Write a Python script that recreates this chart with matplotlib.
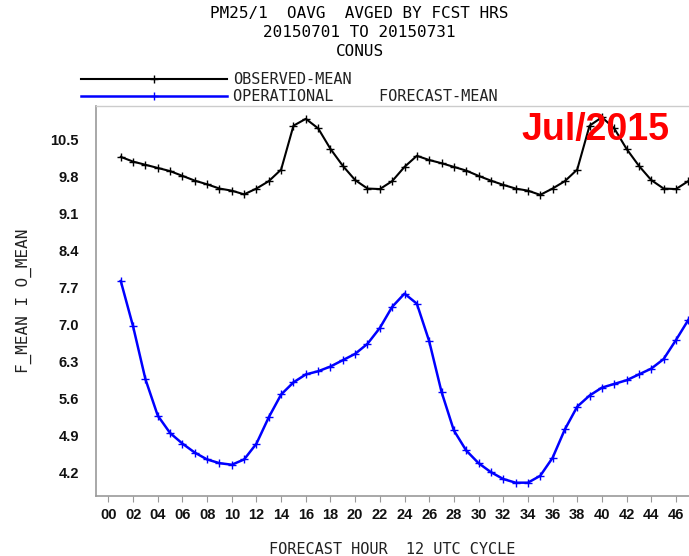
import matplotlib
matplotlib.use("Agg")
import matplotlib.pyplot as plt
from matplotlib.lines import Line2D

# forecast hours 1..47
hours = list(range(1, 48))

# observed mean (black)
obs_mean = [10.18, 10.09, 10.03, 9.97, 9.91, 9.82, 9.73, 9.66, 9.58, 9.54,
            9.47, 9.58, 9.72, 9.94, 10.77, 10.90, 10.72, 10.33, 10.01, 9.74,
            9.58, 9.57, 9.72, 9.99, 10.20, 10.12, 10.06, 9.99, 9.92, 9.82,
            9.73, 9.65, 9.58, 9.54, 9.46, 9.58, 9.72, 9.94, 10.77, 10.93,
            10.72, 10.33, 10.01, 9.74, 9.58, 9.57, 9.72]

# operational forecast mean (blue)
fcst_mean = [7.83, 6.97, 5.97, 5.28, 4.95, 4.75, 4.58, 4.45, 4.38, 4.35,
             4.45, 4.75, 5.25, 5.68, 5.91, 6.06, 6.12, 6.21, 6.33, 6.45,
             6.64, 6.94, 7.34, 7.59, 7.40, 6.69, 5.73, 5.00, 4.62, 4.38,
             4.21, 4.08, 4.01, 4.01, 4.14, 4.48, 5.02, 5.45, 5.66, 5.81,
             5.88, 5.95, 6.06, 6.17, 6.35, 6.71, 7.09]

xticks = list(range(0, 47, 2))
xtick_labels = ["%02d" % h for h in xticks]
yticks = [4.2, 4.9, 5.6, 6.3, 7.0, 7.7, 8.4, 9.1, 9.8, 10.5]

mono = "DejaVu Sans Mono"

fig = plt.figure(figsize=(6.89, 5.56), dpi=100)
ax = fig.add_axes([0.1389, 0.1085, 0.8611, 0.7000])

ax.plot(hours, obs_mean, color="black", lw=1.5, marker="+", ms=6, mew=1.0)
ax.plot(hours, fcst_mean, color="#0000ff", lw=1.8, marker="+", ms=6, mew=1.0)

ax.set_xlim(-1.03, 47.06)
ax.set_ylim(3.764, 11.134)
ax.set_xticks(xticks)
ax.set_xticklabels(xtick_labels)
ax.set_yticks(yticks)
ax.set_yticklabels(["%.1f" % v for v in yticks])

for lab in ax.get_xticklabels() + ax.get_yticklabels():
    lab.set_fontfamily("Liberation Sans")
    lab.set_fontweight("bold")
    lab.set_fontsize(10.5)
    lab.set_color("#111111")

ax.tick_params(axis="x", direction="out", length=4, width=0.8, color="#999999", pad=5)
ax.tick_params(axis="y", length=0, pad=12)

for side in ["left", "bottom"]:
    ax.spines[side].set_color("#999999")
    ax.spines[side].set_linewidth(1.2)
ax.spines["top"].set_color("#cccccc")
ax.spines["top"].set_linewidth(1.0)
ax.spines["right"].set_visible(False)

ax.set_xlabel("FORECAST HOUR  12 UTC CYCLE", fontfamily=mono, fontsize=11,
              color="#222222")
ax.xaxis.set_label_coords(0.5, -0.119)
ax.set_ylabel("F_MEAN I O_MEAN", fontfamily=mono, fontsize=11.5,
              color="#222222")
ax.yaxis.set_label_coords(-0.108, 0.5)

# title block
fig.text(0.522, 0.9766, "PM25/1  OAVG  AVGED BY FCST HRS", ha="center", va="center",
         fontfamily=mono, fontsize=11.5, color="black")
fig.text(0.522, 0.9424, "20150701 TO 20150731", ha="center", va="center",
         fontfamily=mono, fontsize=11.5, color="black")
fig.text(0.522, 0.9065, "CONUS", ha="center", va="center",
         fontfamily=mono, fontsize=11.5, color="black")

# legend
handles = [Line2D([], [], color="black", lw=1.5, marker="+", ms=6, mew=1.0),
           Line2D([], [], color="#0000ff", lw=1.8, marker="+", ms=6, mew=1.0)]
fig.legend(handles, ["OBSERVED-MEAN", "OPERATIONAL     FORECAST-MEAN"],
           loc="lower left", bbox_to_anchor=(80.7 / 689, 1 - 104 / 556),
           frameon=False, borderpad=0, borderaxespad=0, numpoints=1,
           handlelength=9.55, handletextpad=0.45, labelspacing=0.12,
           prop={"family": mono, "size": 11}, labelcolor="#222222")

ax.text(0.843, 0.94, "Jul/2015", transform=ax.transAxes, ha="center", va="center",
        fontfamily="Liberation Sans", fontweight="bold", fontsize=27, color="red",
        zorder=5)

fig.savefig("out.png", dpi=100)
